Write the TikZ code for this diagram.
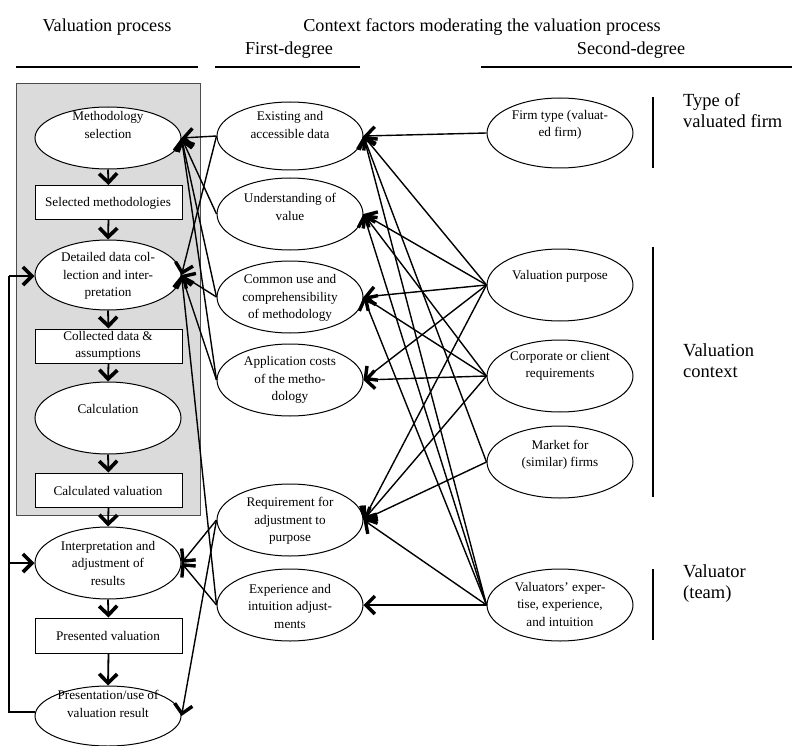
\documentclass[tikz,border=0pt]{standalone}
\usepackage{fontspec}
\setmainfont{Liberation Serif}
\usetikzlibrary{arrows.meta,shapes.geometric}

\begin{document}
\begin{tikzpicture}[x=1pt,y=-1pt,
  ell/.style={draw, ellipse, line width=1pt, minimum width=146pt, minimum height=72pt, inner sep=0pt, fill=white},
  boxn/.style={draw, rectangle, line width=1pt, minimum width=147pt, minimum height=34pt, inner sep=0pt, fill=white},
  txt/.style={align=center, font=\fontsize{13.2}{17.5}\selectfont, inner sep=0pt},
  big/.style={align=left, font=\fontsize{18.5}{21}\selectfont, inner sep=0pt, anchor=base west},
  head/.style={font=\fontsize{18.2}{21}\selectfont, inner sep=0pt, anchor=base},
  rule/.style={line width=2pt},
  bar/.style={line width=1.3pt},
  link/.style={line width=1.4pt, line join=miter, -{Straight Barb[length=9pt,width=18pt,line width=3.4pt]}},
  flow/.style={line width=1.8pt, line join=miter, -{Straight Barb[length=9pt,width=18pt,line width=3.6pt]}},
]
\useasboundingbox (0,0) rectangle (792,746);

% column headings and rules
\node[head] (h1) at (107,32) {Valuation process};
\node[head] (h2) at (482,32) {Context factors moderating the valuation process};
\node[head] (h3) at (289,55) {First-degree};
\node[head] (h4) at (631,55) {Second-degree};
\draw[rule] (16,67) -- (198,67);
\draw[rule] (215,67) -- (360,67);
\draw[rule] (481,67) -- (792,67);

% grey frame around the core process
\draw[line width=1pt, draw=black!70, fill=black!14] (16,84) rectangle (200,515);

% valuation process
\node[ell, minimum height=62pt] (ms) at (108,138) {};
\node[boxn] (sm) at (108.5,202.5) {};
\node[ell, minimum height=70pt] (dd) at (108,275) {};
\node[boxn] (cd) at (108.5,346) {};
\node[ell, minimum height=72pt] (ca) at (108,418) {};
\node[boxn] (cv) at (108.5,490) {};
\node[ell, minimum height=72pt] (ir) at (108,563) {};
\node[boxn, minimum height=35pt] (pv) at (108.5,635.5) {};
\node[ell, minimum height=60pt] (pu) at (108,716) {};

% first-degree factors
\node[ell, minimum height=68pt] (ex) at (290,136) {};
\node[ell] (un) at (290,214) {};
\node[ell] (cu) at (290,297) {};
\node[ell] (ac) at (290,380) {};
\node[ell] (rq) at (290,520) {};
\node[ell] (xp) at (290,605) {};

% second-degree factors
\node[ell, minimum height=70pt] (ft) at (560,133) {};
\node[ell] (vp) at (560,285) {};
\node[ell] (co) at (560,376) {};
\node[ell] (mk) at (560,462) {};
\node[ell] (va) at (560,605) {};

% group brackets
\draw[bar] (653,97) -- (653,168);
\draw[bar] (653,247) -- (653,497);
\draw[bar] (653,569) -- (653,640);

% process flow
\draw[flow] (ms.south) -- (sm.north);
\draw[flow] (sm.south) -- (dd.north);
\draw[flow] (dd.south) -- (cd.north);
\draw[flow] (cd.south) -- (ca.north);
\draw[flow] (ca.south) -- (cv.north);
\draw[flow] (cv.south) -- (ir.north);
\draw[flow] (ir.south) -- (pv.north);
\draw[flow] (pv.south) -- (pu.north);

% feedback loop
\coordinate (lb) at (9,712);
\coordinate (lt) at (9,276);
\coordinate (lm) at (9,563);
\draw[line width=1.8pt] (pu.west |- lb) -- (lb) -- (lt);
\draw[flow] (lt) -- (dd.west |- lt);
\draw[flow] (lm) -- (ir.west);

% second-degree -> first-degree
\draw[link] (ft.west) -- (ex.east);
\draw[link] (vp.west) -- (ex.east);
\draw[link] (mk.west) -- (ex.east);
\draw[link] (va.west) -- (ex.east);
\draw[link] (vp.west) -- (un.east);
\draw[link] (co.west) -- (un.east);
\draw[link] (va.west) -- (un.east);
\draw[link] (vp.west) -- (cu.east);
\draw[link] (co.west) -- (cu.east);
\draw[link] (va.west) -- (cu.east);
\draw[link] (co.west) -- (ac.east);
\draw[link] (vp.west) -- (ac.east);
\draw[link] (vp.west) -- (rq.east);
\draw[link] (co.west) -- (rq.east);
\draw[link] (mk.west) -- (rq.east);
\draw[link] (va.west) -- (rq.east);
\draw[link] (va.west) -- (xp.east);

% first-degree -> process
\draw[link] (ex.west) -- (ms.east);
\draw[link] (ex.west) -- (dd.east);
\draw[link] (un.west) -- (ms.east);
\draw[link] (cu.west) -- (ms.east);
\draw[link] (cu.west) -- (dd.east);
\draw[link] (ac.west) -- (ms.east);
\draw[link] (ac.west) -- (dd.east);
\draw[link] (xp.west) -- (dd.east);
\draw[link] (rq.west) -- (ir.east);
\draw[link] (rq.west) -- (pu.east);
\draw[link] (xp.west) -- (ir.east);

% texts of the process steps
\node[txt] (ms-t) at (108,125) {Methodology\\selection};
\node[txt] (sm-t) at (108,203) {Selected methodologies};
\node[txt] (dd-t) at (108,276) {Detailed data col-\\lection and inter-\\pretation};
\node[txt] (cd-t) at (108,346) {Collected data \&\\assumptions};
\node[txt] (ca-t) at (108,409) {Calculation};
\node[txt] (cv-t) at (108,491) {Calculated valuation};
\node[txt] (ir-t) at (108,563) {Interpretation and\\adjustment of\\results};
\node[txt] (pv-t) at (108,636) {Presented valuation};
\node[txt] (pu-t) at (108,704) {Presentation/use of\\valuation result};

% texts of the first-degree factors
\node[txt] (ex-t) at (290,125) {Existing and\\accessible data};
\node[txt] (un-t) at (290,207) {Understanding of\\value};
\node[txt] (cu-t) at (290,298) {Common use and\\comprehensibility\\of methodology};
\node[txt] (ac-t) at (290,380) {Application costs\\of the metho-\\dology};
\node[txt] (rq-t) at (290,521) {Requirement for\\adjustment to\\purpose};
\node[txt] (xp-t) at (290,606) {Experience and\\intuition adjust-\\ments};

% texts of the second-degree factors
\node[txt] (ft-t) at (560,125) {Firm type (valuat-\\ed firm)};
\node[txt] (vp-t) at (560,276) {Valuation purpose};
\node[txt] (co-t) at (560,366) {Corporate or client\\requirements};
\node[txt] (mk-t) at (560,455) {Market for\\(similar) firms};
\node[txt] (va-t) at (560,604) {Valuators’ exper-\\tise, experience,\\and intuition};

% group labels
\node[big] (g1) at (683,128) {Type of\\valuated firm};
\node[big] (g2) at (683,377) {Valuation\\context};
\node[big] (g3) at (683,598) {Valuator\\(team)};
\end{tikzpicture}
\end{document}
